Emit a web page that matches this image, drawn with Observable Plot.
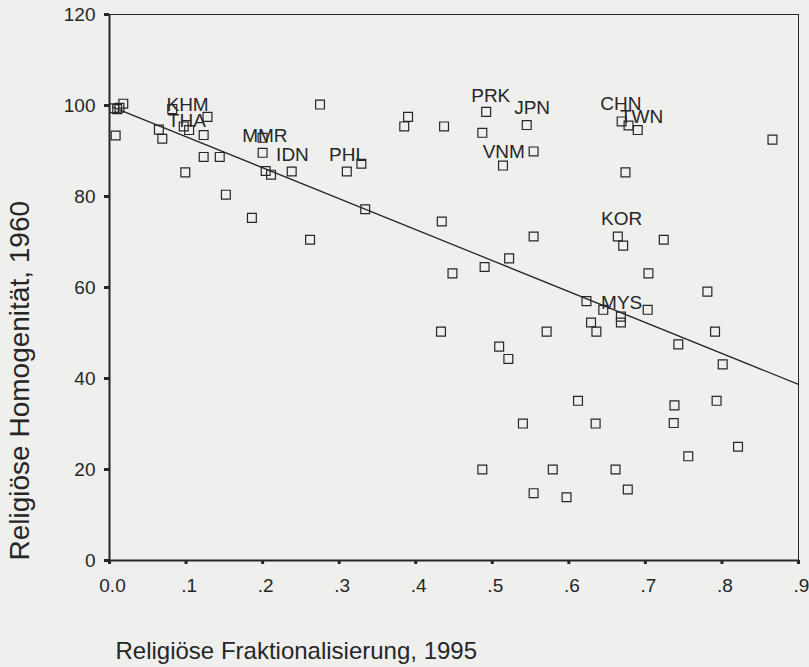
<!DOCTYPE html>
<html><head><meta charset="utf-8">
<script src="https://cdn.jsdelivr.net/npm/d3@7"></script>
<script src="https://cdn.jsdelivr.net/npm/@observablehq/plot@0.6"></script>
<style>
html,body{margin:0;padding:0;background:#efefee;}
</style></head><body><div id="chart"></div>
<script>
// Countries: religious fractionalization 1995 (x) vs religious homogeneity 1960 (y)
const pointX = [0.008,0.006,0.010,0.013,0.018,
  0.082,0.128,0.097,0.104,0.0645,0.069,0.123,0.123,0.144,0.099,0.152,0.186,
  0.200,0.200,0.204,0.211,0.238,0.262,0.275,0.310,0.329,0.334,0.385,0.390,0.437,
  0.492,0.487,0.545,0.554,0.514,0.669,0.678,0.690,0.866,0.674,
  0.664,0.671,0.724,0.434,0.554,0.522,0.448,0.490,0.704,0.781,
  0.623,0.645,0.703,0.629,0.636,0.668,0.668,0.433,0.571,0.791,
  0.509,0.521,0.743,0.801,0.612,0.793,0.738,0.540,0.635,0.737,
  0.821,0.756,0.487,0.579,0.661,0.554,0.597,0.677];
const pointY = [93.4,99.4,99.2,99.5,100.4,
  99.2,97.5,95.4,94.6,94.7,92.7,93.5,88.7,88.7,85.3,80.4,75.3,
  92.9,89.6,85.6,84.8,85.5,70.5,100.2,85.5,87.2,77.2,95.4,97.5,95.4,
  98.6,94.0,95.7,89.9,86.8,96.5,95.6,94.6,92.5,85.3,
  71.2,69.2,70.5,74.5,71.2,66.4,63.1,64.5,63.1,59.1,
  57.0,55.1,55.1,52.3,50.3,53.6,52.3,50.3,50.3,50.3,
  47.0,44.3,47.5,43.1,35.1,35.1,34.1,30.1,30.1,30.2,
  25.0,22.9,20.0,20.0,20.0,14.8,13.9,15.6];

const labelCodes = ["KHM","THA","MMR","IDN","PHL","PRK","JPN","VNM","CHN","TWN","KOR","MYS"];
const labelX = [0.102,0.101,0.203,0.239,0.311,0.498,0.552,0.515,0.668,0.695,0.669,0.669];
const labelY = [100.2,96.6,93.3,89.2,89.2,102.1,99.5,89.8,100.4,97.5,75.0,56.7];

const trendX = [0.005, 0.9];
const trendY = [99.6, 38.7];

const xTicks = [0,0.1,0.2,0.3,0.4,0.5,0.6,0.7,0.8,0.9];
const xTickLabels = ["0.0",".1",".2",".3",".4",".5",".6",".7",".8",".9"];
const yTicks = [0,20,40,60,80,100,120];
const xTitle = "Religiöse Fraktionalisierung, 1995";
const yTitle = "Religiöse Homogenität, 1960";

const points = pointX.map((x, i) => ({x, y: pointY[i]}));
const labels = labelCodes.map((code, i) => ({code, x: labelX[i], y: labelY[i]}));
const trend = trendX.map((x, i) => ({x, y: trendY[i]}));
const ink = "#262626";

const chart = Plot.plot({
  width: 809, height: 667,
  marginLeft: 109, marginRight: 11, marginTop: 14, marginBottom: 107,
  style: {background: "transparent", fontFamily: "'Liberation Sans', Arial, sans-serif", color: ink, overflow: "visible"},
  x: {domain: [0, 0.9]},
  y: {domain: [0, 120]},
  marks: [
    Plot.frame({stroke: ink, strokeWidth: 1}),
    Plot.axisX({ticks: xTicks, tickFormat: () => "", tickSize: 4, strokeWidth: 3, label: null}),
    Plot.axisX({ticks: xTicks, tickFormat: d => xTickLabels[xTicks.findIndex(t => Math.abs(t - d) < 1e-9)], tickSize: 0, tickPadding: 18, fontSize: 19, dx: 3, label: null}),
    Plot.axisY({ticks: yTicks, tickSize: 5, tickPadding: 9, strokeWidth: 3, fontSize: 19, label: null}),
    Plot.ruleX([0], {stroke: ink, strokeWidth: 2}),
    Plot.ruleY([0], {stroke: ink, strokeWidth: 2}),
    Plot.line(trend, {x: "x", y: "y", stroke: ink, strokeWidth: 1.3}),
    Plot.dot(points, {x: "x", y: "y", symbol: "square", r: 5, stroke: ink, strokeWidth: 1.2, fill: "none"}),
    Plot.text(labels, {x: "x", y: "y", text: "code", fontSize: 19, fill: ink}),
    Plot.text([xTitle], {frameAnchor: "bottom-left", text: d => d, textAnchor: "start", dx: 6, dy: 98, fontSize: 24, fill: ink}),
    Plot.text([yTitle], {frameAnchor: "bottom-left", text: d => d, rotate: -90, textAnchor: "start", dx: -81, dy: 0, fontSize: 28, fill: ink})
  ]
});
document.getElementById("chart").appendChild(chart);
</script>
</body></html>
